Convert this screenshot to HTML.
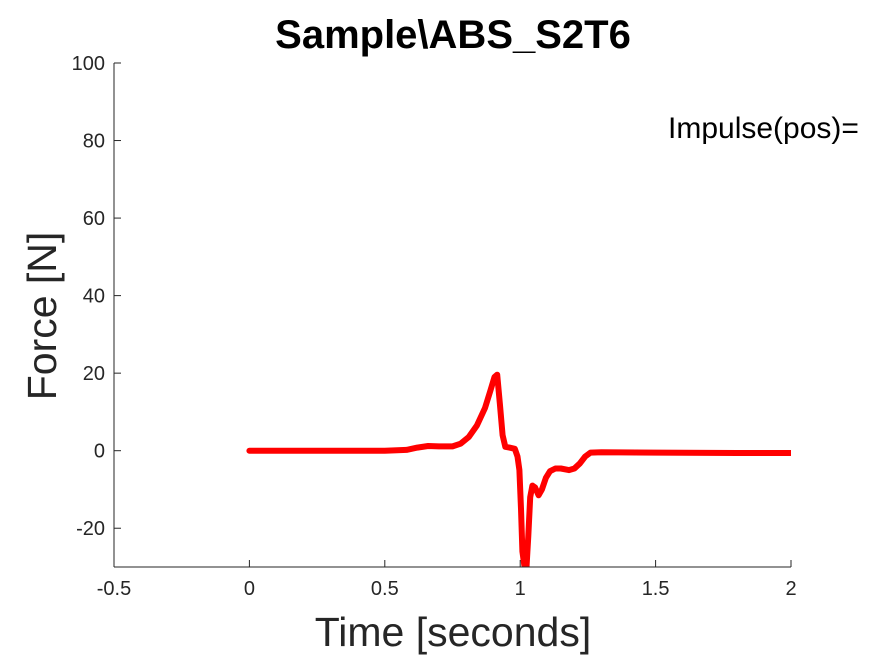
<!DOCTYPE html>
<html><head><meta charset="utf-8"><style>
html,body{margin:0;padding:0;background:#fff;width:875px;height:656px;overflow:hidden}
svg{display:block;font-family:"Liberation Sans",Arial,sans-serif}
</style></head><body>
<svg id="chart" width="875" height="656">
<rect width="875" height="656" fill="#fff"/>
<text x="453" y="48" text-anchor="middle" font-size="40" font-weight="bold" fill="#000">Sample\ABS_S2T6</text>
<text x="668" y="138" font-size="30" fill="#000">Impulse(pos)=</text>
<g id="axes"></g>
<text text-anchor="middle" font-size="41" fill="#262626" transform="translate(56,316) rotate(-90)">Force [N]</text>
<text x="453" y="646" text-anchor="middle" font-size="41" fill="#262626">Time [seconds]</text>
</svg>
<script>
const xTicks=[-0.5,0,0.5,1,1.5,2];
const xTickLabels=["-0.5","0","0.5","1","1.5","2"];
const yTicks=[-20,0,20,40,60,80,100];
const yTickLabels=["-20","0","20","40","60","80","100"];
const timeValues=[0,0.2,0.5,0.58,0.62,0.66,0.7,0.75,0.78,0.81,0.84,0.87,0.89,0.905,0.915,0.925,0.935,0.945,0.96,0.98,0.99,0.997,1.003,1.008,1.015,1.023,1.03,1.037,1.045,1.055,1.068,1.08,1.095,1.11,1.13,1.15,1.18,1.2,1.22,1.24,1.26,1.3,1.5,1.8,2.0];
const forceValues=[0,0,0,0.2,0.8,1.2,1.1,1.1,1.8,3.5,6.5,11,15.5,19,19.6,12,4,1,0.8,0.5,-1.5,-5,-15,-26,-29.5,-30.5,-22,-12,-9,-9.5,-11.5,-10,-7,-5.3,-4.6,-4.6,-5,-4.6,-3.3,-1.5,-0.5,-0.4,-0.5,-0.6,-0.6];
const X0=114,X1=791,Y0=567,Y1=63,xMin=-0.5,xMax=2,yMin=-30,yMax=100;
const sx=v=>X0+(v-xMin)/(xMax-xMin)*(X1-X0);
const sy=v=>Y0-(v-yMin)/(yMax-yMin)*(Y0-Y1);
const NS="http://www.w3.org/2000/svg";
const g=document.getElementById('axes');
function mk(t,a){const e=document.createElementNS(NS,t);for(const k in a)e.setAttribute(k,a[k]);return e;}
const defs=mk('defs',{});const cp=mk('clipPath',{id:'plotclip'});cp.appendChild(mk('rect',{x:X0,y:Y1,width:X1-X0,height:Y0-Y1}));defs.appendChild(cp);g.appendChild(defs);
const pts=timeValues.map((t,i)=>sx(t).toFixed(1)+','+sy(forceValues[i]).toFixed(1)).join(' ');
const line=mk('polyline',{points:pts,fill:'none',stroke:'#ff0000','stroke-width':6,'stroke-linejoin':'round','stroke-linecap':'round','clip-path':'url(#plotclip)'});


g.appendChild(line);
const xa=mk('line',{x1:X0,y1:Y0,x2:X1,y2:Y0,stroke:'#262626','stroke-width':1});


g.appendChild(xa);
const ya=mk('line',{x1:X0,y1:Y0,x2:X0,y2:Y1,stroke:'#262626','stroke-width':1});


g.appendChild(ya);
xTicks.forEach((v,i)=>{const x=sx(v);
g.appendChild(mk('line',{x1:x,y1:Y0,x2:x,y2:Y0-7,stroke:'#262626'}));
const t=mk('text',{x:x,y:Y0+28,'text-anchor':'middle','font-size':20,fill:'#262626'});t.textContent=xTickLabels[i];


g.appendChild(t);});
yTicks.forEach((v,i)=>{const y=sy(v);
g.appendChild(mk('line',{x1:X0,y1:y,x2:X0+7,y2:y,stroke:'#262626'}));
const t=mk('text',{x:X0-9,y:y+7,'text-anchor':'end','font-size':20,fill:'#262626'});t.textContent=yTickLabels[i];


g.appendChild(t);});
</script>
</body></html>
